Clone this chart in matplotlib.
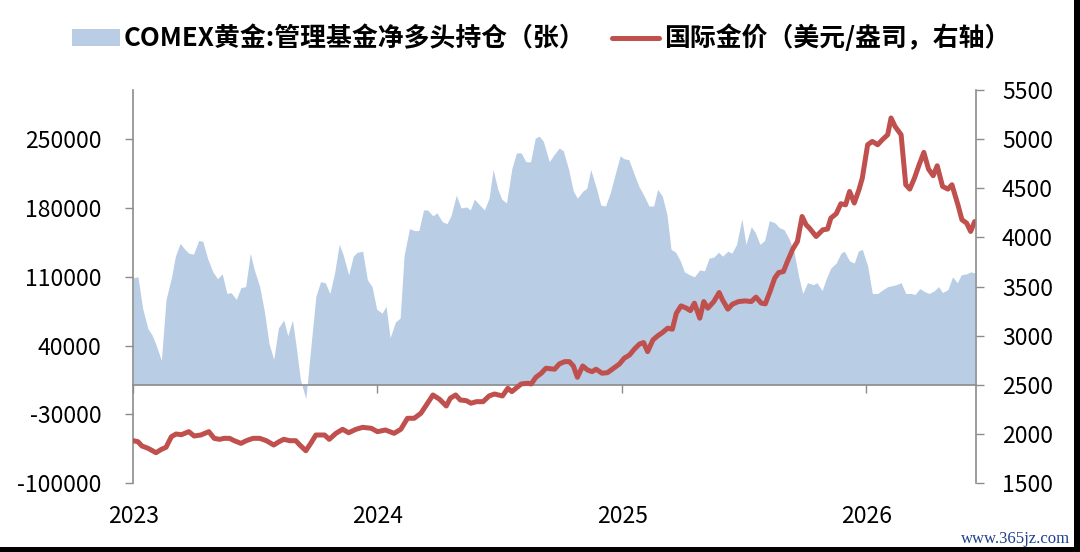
import matplotlib
matplotlib.use('Agg')
import matplotlib.pyplot as plt
import matplotlib.dates as mdates
import pandas as pd
from matplotlib.patches import Rectangle

# COMEX gold: managed money net long positions (contracts), weekly
area_dates = [
    '2023-01-01', '2023-01-08', '2023-01-15', '2023-01-23', '2023-01-29', '2023-02-04', '2023-02-12', '2023-02-19', '2023-02-27', '2023-03-05',
    '2023-03-12', '2023-03-19', '2023-03-25', '2023-04-01', '2023-04-09', '2023-04-15', '2023-04-22', '2023-04-30', '2023-05-07', '2023-05-14',
    '2023-05-21', '2023-05-27', '2023-06-04', '2023-06-11', '2023-06-18', '2023-06-25', '2023-07-01', '2023-07-09', '2023-07-16', '2023-07-23',
    '2023-07-30', '2023-08-06', '2023-08-14', '2023-08-20', '2023-08-27', '2023-09-01', '2023-09-08', '2023-09-16', '2023-09-24', '2023-10-01',
    '2023-10-08', '2023-10-15', '2023-10-22', '2023-10-29', '2023-11-05', '2023-11-11', '2023-11-19', '2023-11-26', '2023-12-02', '2023-12-10',
    '2023-12-17', '2023-12-24', '2023-12-31', '2024-01-08', '2024-01-14', '2024-01-20', '2024-01-28', '2024-02-04', '2024-02-10', '2024-02-18',
    '2024-02-25', '2024-03-03', '2024-03-10', '2024-03-16', '2024-03-24', '2024-03-30', '2024-04-07', '2024-04-14', '2024-04-20', '2024-04-28',
    '2024-05-05', '2024-05-13', '2024-05-19', '2024-05-25', '2024-06-02', '2024-06-09', '2024-06-16', '2024-06-22', '2024-06-29', '2024-07-05',
    '2024-07-12', '2024-07-20', '2024-07-27', '2024-08-03', '2024-08-10', '2024-08-17', '2024-08-24', '2024-08-30', '2024-09-05', '2024-09-14',
    '2024-09-22', '2024-09-29', '2024-10-05', '2024-10-13', '2024-10-20', '2024-10-26', '2024-11-03', '2024-11-09', '2024-11-15', '2024-11-23',
    '2024-11-30', '2024-12-07', '2024-12-14', '2024-12-21', '2024-12-29', '2025-01-04', '2025-01-11', '2025-01-18', '2025-01-26', '2025-02-03',
    '2025-02-10', '2025-02-17', '2025-02-23', '2025-03-02', '2025-03-09', '2025-03-15', '2025-03-22', '2025-03-29', '2025-04-04', '2025-04-12',
    '2025-04-19', '2025-04-27', '2025-05-04', '2025-05-11', '2025-05-18', '2025-05-25', '2025-05-31', '2025-06-08', '2025-06-14', '2025-06-21',
    '2025-06-29', '2025-07-05', '2025-07-13', '2025-07-19', '2025-07-26', '2025-08-02', '2025-08-09', '2025-08-17', '2025-08-24', '2025-08-31',
    '2025-09-08', '2025-09-15', '2025-09-22', '2025-09-28', '2025-10-05', '2025-10-14', '2025-10-19', '2025-10-27', '2025-11-02', '2025-11-09',
    '2025-11-17', '2025-11-24', '2025-11-29', '2025-12-07', '2025-12-14', '2025-12-20', '2025-12-26', '2026-01-03', '2026-01-10', '2026-01-18',
    '2026-01-24', '2026-02-02', '2026-02-09', '2026-02-15', '2026-02-22', '2026-03-01', '2026-03-09', '2026-03-15', '2026-03-22', '2026-03-29',
    '2026-04-05', '2026-04-13', '2026-04-19', '2026-04-25', '2026-05-03', '2026-05-10', '2026-05-17', '2026-05-23', '2026-05-31', '2026-06-06',
    '2026-06-12',
]
net_long = [
    109000, 110000, 78000, 57000, 51000, 41000, 25000, 87000, 109000, 131000,
    144000, 138000, 134000, 133000, 147000, 146000, 129000, 115000, 108000, 113000,
    93000, 94000, 87000, 99000, 100000, 134000, 117000, 100000, 75000, 42000,
    26000, 58000, 66000, 50000, 66000, 42000, 5000, -14000, 42000, 90000,
    105000, 104000, 93000, 114000, 143000, 132000, 112000, 131000, 135000, 136000,
    107000, 100000, 77000, 73000, 80000, 48000, 64000, 68000, 132000, 159000,
    157000, 157000, 178000, 178000, 172000, 175000, 166000, 164000, 172000, 193000,
    180000, 181000, 178000, 189000, 183000, 178000, 190000, 219000, 199000, 189000,
    185000, 220000, 236000, 236000, 227000, 227000, 251000, 253000, 248000, 227000,
    235000, 241000, 238000, 219000, 197000, 190000, 197000, 200000, 219000, 201000,
    183000, 182000, 195000, 213000, 233000, 230000, 229000, 216000, 202000, 192000,
    182000, 182000, 199000, 192000, 173000, 138000, 135000, 126000, 115000, 112000,
    110000, 117000, 116000, 129000, 130000, 135000, 131000, 136000, 134000, 143000,
    169000, 143000, 161000, 155000, 143000, 147000, 167000, 165000, 160000, 158000,
    148000, 135000, 110000, 93000, 104000, 102000, 104000, 96000, 108000, 119000,
    124000, 134000, 136000, 126000, 124000, 136000, 138000, 121000, 93000, 93000,
    96000, 100000, 101000, 102000, 104000, 93000, 93000, 92000, 98000, 95000,
    93000, 96000, 100000, 94000, 97000, 110000, 104000, 112000, 113000, 115000,
    114000,
]

# international gold price (USD/oz, right axis)
price_dates = [
    '2023-01-01', '2023-01-08', '2023-01-14', '2023-01-23', '2023-02-04', '2023-02-12', '2023-02-19', '2023-02-27', '2023-03-06', '2023-03-14',
    '2023-03-25', '2023-04-02', '2023-04-12', '2023-04-24', '2023-05-02', '2023-05-10', '2023-05-17', '2023-05-25', '2023-06-01', '2023-06-11',
    '2023-06-19', '2023-06-29', '2023-07-09', '2023-07-19', '2023-07-30', '2023-08-07', '2023-08-14', '2023-08-23', '2023-09-01', '2023-09-07',
    '2023-09-16', '2023-09-24', '2023-10-01', '2023-10-14', '2023-10-21', '2023-10-31', '2023-11-10', '2023-11-19', '2023-11-30', '2023-12-10',
    '2023-12-23', '2024-01-01', '2024-01-13', '2024-01-26', '2024-02-05', '2024-02-15', '2024-02-25', '2024-03-06', '2024-03-16', '2024-03-24',
    '2024-04-03', '2024-04-13', '2024-04-19', '2024-04-27', '2024-05-04', '2024-05-13', '2024-05-20', '2024-05-28', '2024-06-07', '2024-06-16',
    '2024-06-24', '2024-07-06', '2024-07-14', '2024-07-20', '2024-07-26', '2024-08-03', '2024-08-13', '2024-08-18', '2024-08-25', '2024-09-02',
    '2024-09-09', '2024-09-22', '2024-09-29', '2024-10-07', '2024-10-14', '2024-10-20', '2024-10-26', '2024-11-03', '2024-11-10', '2024-11-17',
    '2024-11-23', '2024-12-02', '2024-12-10', '2024-12-19', '2024-12-28', '2025-01-04', '2025-01-12', '2025-01-19', '2025-01-27', '2025-02-02',
    '2025-02-08', '2025-02-16', '2025-02-23', '2025-03-02', '2025-03-10', '2025-03-17', '2025-03-23', '2025-03-30', '2025-04-07', '2025-04-13',
    '2025-04-19', '2025-04-27', '2025-05-03', '2025-05-09', '2025-05-18', '2025-05-26', '2025-05-31', '2025-06-08', '2025-06-15', '2025-06-24',
    '2025-07-04', '2025-07-13', '2025-07-20', '2025-07-28', '2025-08-03', '2025-08-10', '2025-08-17', '2025-08-23', '2025-08-30', '2025-09-05',
    '2025-09-13', '2025-09-20', '2025-09-27', '2025-10-03', '2025-10-08', '2025-10-18', '2025-10-28', '2025-11-04', '2025-11-09', '2025-11-17',
    '2025-11-24', '2025-12-01', '2025-12-07', '2025-12-14', '2025-12-21', '2025-12-26', '2026-01-03', '2026-01-10', '2026-01-18', '2026-01-25',
    '2026-02-02', '2026-02-07', '2026-02-13', '2026-02-22', '2026-03-01', '2026-03-07', '2026-03-14', '2026-03-21', '2026-03-28', '2026-04-04',
    '2026-04-11', '2026-04-17', '2026-04-25', '2026-05-03', '2026-05-09', '2026-05-18', '2026-05-24', '2026-05-31', '2026-06-06', '2026-06-12',
]
gold_price = [
    1933, 1923, 1879, 1856, 1811, 1845, 1866, 1974, 2001, 1994,
    2025, 1981, 1991, 2025, 1957, 1947, 1957, 1957, 1933, 1906,
    1933, 1957, 1957, 1933, 1889, 1923, 1947, 1933, 1933, 1889,
    1831, 1913, 1991, 1991, 1947, 2008, 2049, 2014, 2049, 2069,
    2059, 2025, 2042, 2008, 2049, 2161, 2161, 2212, 2314, 2398,
    2354, 2286, 2365, 2398, 2347, 2340, 2314, 2330, 2330, 2388,
    2408, 2388, 2466, 2432, 2466, 2510, 2517, 2510, 2578, 2619,
    2670, 2660, 2714, 2737, 2737, 2693, 2578, 2693, 2653, 2635,
    2660, 2619, 2625, 2670, 2714, 2772, 2805, 2863, 2917, 2931,
    2839, 2958, 2999, 3032, 3077, 3067, 3230, 3304, 3281, 3256,
    3332, 3179, 3348, 3281, 3348, 3440, 3365, 3271, 3322, 3348,
    3355, 3348, 3393, 3332, 3325, 3450, 3586, 3643, 3653, 3755,
    3881, 3959, 4213, 4129, 4095, 4010, 4078, 4085, 4197, 4241,
    4343, 4332, 4468, 4350, 4485, 4604, 4943, 4977, 4943, 4994,
    5045, 5215, 5129, 5045, 4536, 4492, 4604, 4740, 4865, 4696,
    4628, 4729, 4519, 4492, 4536, 4332, 4180, 4146, 4061, 4162,
]

left_ticks = [-100000, -30000, 40000, 110000, 180000, 250000]
right_ticks = [1500, 2000, 2500, 3000, 3500, 4000, 4500, 5000, 5500]
year_ticks = ['2023-01-01', '2024-01-01', '2025-01-01', '2026-01-01']
year_labels = ['2023', '2024', '2025', '2026']

area_label = 'COMEX黄金:管理基金净多头持仓（张）'
line_label = '国际金价（美元/盎司，右轴）'

plt.rcParams['font.family'] = ['Noto Sans CJK SC', 'DejaVu Sans']
plt.rcParams['axes.unicode_minus'] = False
grey = '#8C8C8C'

fig = plt.figure(figsize=(10.8, 5.52), dpi=100)
ax = fig.add_axes([0.1234, 0.1245, 0.7803, 0.7125])

area = ax.fill_between(pd.to_datetime(area_dates), net_long, 0,
                       color='#B9CDE5', lw=0, label=area_label)
ax.set_xlim(pd.Timestamp('2023-01-01'), pd.Timestamp('2026-06-14'))
ax.set_ylim(-100000, 300000)
ax.set_yticks(left_ticks)

# x axis line sits on zero, labels stay at the bottom
year_pos = mdates.date2num(pd.to_datetime(year_ticks))
ax.spines['bottom'].set_position(('data', 0))
ax.spines['bottom'].set_color(grey)
ax.spines['bottom'].set_linewidth(1.2)
ax.set_xticks(year_pos)
ax.tick_params(axis='x', direction='out', length=6, width=1, color=grey, labelbottom=False)
sec = ax.secondary_xaxis('bottom')
sec.set_xticks(year_pos, labels=year_labels)
sec.spines['bottom'].set_visible(False)
sec.tick_params(length=0, pad=15.5, labelsize=16.5)

ax.spines['top'].set_visible(False)
ax.spines['right'].set_visible(False)
ax.spines['left'].set_color(grey)
ax.spines['left'].set_linewidth(1.2)
ax.tick_params(axis='y', direction='out', length=6, width=1, color=grey, pad=17, labelsize=16.5)

ax2 = ax.twinx()
line, = ax2.plot(pd.to_datetime(price_dates), gold_price, color='#C0504D', lw=3.6,
                 solid_joinstyle='round', solid_capstyle='round', label=line_label)
ax2.set_ylim(1500, 5500)
ax2.set_yticks(right_ticks)
for s in ['top', 'left', 'bottom']:
    ax2.spines[s].set_visible(False)
ax2.spines['right'].set_color(grey)
ax2.spines['right'].set_linewidth(1.2)
ax2.tick_params(axis='y', direction='out', length=6, width=1, color=grey, pad=12.7, labelsize=16.5)

fig.legend(handles=[area, line], labels=[area_label, line_label], loc='center',
           bbox_to_anchor=(0.501, 0.930), ncol=2, frameon=False,
           prop={'weight': 'bold', 'size': 18.6}, handlelength=1.85, handleheight=0.6,
           handletextpad=0.16, columnspacing=1.0, borderpad=0, borderaxespad=0)

fig.text(0.9405, 0.0235, 'www.365jz.com', color='#1F3F8F', fontsize=12,
         family='Liberation Serif', ha='center', va='center')

# frame edges of the original screenshot
fig.add_artist(Rectangle((0, 0), 1, 5 / 552, transform=fig.transFigure, color='black', lw=0))
fig.add_artist(Rectangle((1074 / 1080, 0), 6 / 1080, 1, transform=fig.transFigure, color='black', lw=0))

fig.savefig('out.png', dpi=100)
